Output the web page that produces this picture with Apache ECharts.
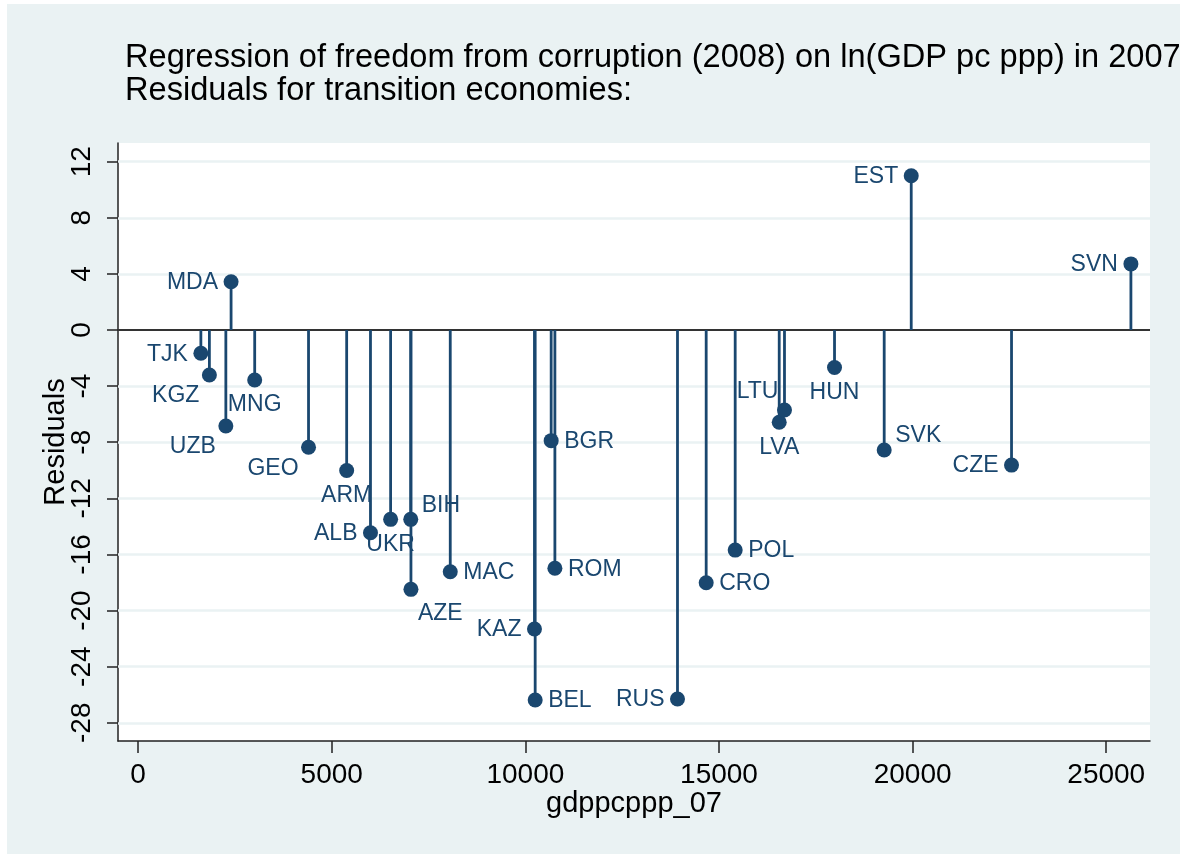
<!DOCTYPE html>
<html>
<head>
<meta charset="utf-8">
<script src="https://cdn.jsdelivr.net/npm/echarts@6/dist/echarts.min.js"></script>
<style>
  html, body { margin: 0; padding: 0; background: #ffffff; }
  #chart { width: 1192px; height: 854px; }
</style>
</head>
<body>
<div id="chart"></div>
<script>
// ---- data ----
const countries = ['TJK','KGZ','UZB','MDA','MNG','GEO','ARM','ALB','UKR','BIH','AZE','MAC','KAZ','BEL','BGR','ROM','RUS','CRO','POL','LVA','LTU','HUN','SVK','EST','CZE','SVN'];
const gdppcppp07 = [1620, 1840, 2265, 2400, 3010, 4400, 5385, 6000, 6520, 7040, 7045, 8060, 10235, 10253, 10666, 10762, 13928, 14669, 15418, 16555, 16691, 17983, 19266, 19964, 22554, 25637];
const residuals = [-1.66, -3.21, -6.84, 3.44, -3.57, -8.36, -10.02, -14.45, -13.50, -13.50, -18.49, -17.23, -21.32, -26.38, -7.89, -16.99, -26.31, -18.02, -15.69, -6.58, -5.70, -2.67, -8.56, 11.00, -9.63, 4.71];
const xTicks = [0, 5000, 10000, 15000, 20000, 25000];
const yTicks = [-28, -24, -20, -16, -12, -8, -4, 0, 4, 8, 12];
const titleLines = ['Regression of freedom from corruption (2008) on ln(GDP pc ppp) in 2007', 'Residuals for transition economies:'];

// ---- styling: marker label clock positions (Stata style) ----
const labelClock = {
  TJK: 9, KGZ: 7, UZB: 7, MDA: 9, MNG: 6, GEO: 7, ARM: 6, ALB: 9, UKR: 6, BIH: 1, AZE: 5,
  MAC: 3, KAZ: 9, BEL: 3, BGR: 3, ROM: 3, RUS: 9, CRO: 3, POL: 3, LVA: 6, LTU: 11, HUN: 6,
  SVK: 1, EST: 9, CZE: 9, SVN: 9
};
const clockStyle = {
  3:  { offset: [13, 1],  align: 'left' },
  9:  { offset: [-13, 1], align: 'right' },
  6:  { offset: [0, 25],  align: 'center' },
  7:  { offset: [-10, 21], align: 'right' },
  5:  { offset: [7, 24],  align: 'left' },
  1:  { offset: [11, -14], align: 'left' },
  11: { offset: [-6, -18], align: 'right' }
};

const NAVY = '#1A476F';
const BG = '#EAF2F3';
const FONT = '"Liberation Sans", Arial, Helvetica, sans-serif';

const points = countries.map((c, i) => {
  const st = clockStyle[labelClock[c]];
  return {
    name: c,
    value: [gdppcppp07[i], residuals[i]],
    label: { offset: st.offset, align: st.align }
  };
});
const stems = countries.map((c, i) => [gdppcppp07[i], residuals[i]]);

const chart = echarts.init(document.getElementById('chart'), null, { renderer: 'canvas' });
chart.setOption({
  animation: false,
  backgroundColor: '#ffffff',
  graphic: [{
    type: 'rect', z: -10, silent: true,
    shape: { x: 7, y: 4, width: 1173, height: 850 },
    style: { fill: BG }
  }],
  title: {
    text: titleLines.join('\n'),
    left: 120, top: 37,
    textStyle: { fontFamily: FONT, fontSize: 32.6, fontWeight: 'normal', color: '#000', lineHeight: 33 }
  },
  grid: {
    left: 118, right: 42, top: 143, bottom: 113,
    show: true, backgroundColor: '#ffffff', borderWidth: 0
  },
  xAxis: {
    type: 'value', min: -520, max: 26130,
    name: 'gdppcppp_07', nameLocation: 'middle', nameGap: 48, nameMoveOverlap: false,
    nameTextStyle: { fontFamily: FONT, fontSize: 29, color: '#000' },
    axisLine: { show: true, onZero: false, lineStyle: { color: '#222', width: 1.5 } },
    axisTick: { show: true, length: 12, customValues: xTicks, lineStyle: { color: '#222', width: 1.5 } },
    axisLabel: { customValues: xTicks, margin: 20, fontFamily: FONT, fontSize: 28, color: '#000',
                 formatter: v => String(v) },
    splitLine: { show: false }
  },
  yAxis: {
    type: 'value', min: -29.3, max: 13.33,
    name: 'Residuals', nameLocation: 'middle', nameGap: 48, nameMoveOverlap: false,
    nameTextStyle: { fontFamily: FONT, fontSize: 29, color: '#000' },
    axisLine: { show: true, onZero: false, lineStyle: { color: '#222', width: 1.5 } },
    axisTick: { show: true, length: 11, customValues: yTicks, lineStyle: { color: '#222', width: 1.5 } },
    axisLabel: { customValues: yTicks, rotate: 90, margin: 22, fontFamily: FONT, fontSize: 28, color: '#000',
                 formatter: v => String(v) },
    splitLine: { show: false }
  },
  series: [
    {
      type: 'line', data: [], silent: true, z: 1, zlevel: 0,
      markLine: {
        silent: true, symbol: 'none', label: { show: false }, animation: false,
        lineStyle: { color: BG, width: 2.5, type: 'solid' },
        data: yTicks.filter(v => v !== 0).map(v => ({ yAxis: v }))
      }
    },
    {
      type: 'line', data: [], silent: true, z: 2, zlevel: 0,
      markLine: {
        silent: true, symbol: 'none', label: { show: false }, animation: false,
        lineStyle: { color: '#333', width: 2, type: 'solid' },
        data: [{ yAxis: 0 }]
      }
    },
    {
      type: 'custom', z: 3, zlevel: 1, silent: true,
      data: stems,
      renderItem: function (params, api) {
        const p0 = api.coord([api.value(0), 0]);
        const p1 = api.coord([api.value(0), api.value(1)]);
        return {
          type: 'line',
          shape: { x1: p0[0], y1: p0[1], x2: p1[0], y2: p1[1] },
          style: { stroke: NAVY, lineWidth: 2.8 }
        };
      }
    },
    {
      type: 'scatter', z: 4, zlevel: 1,
      symbol: 'circle', symbolSize: 15,
      itemStyle: { color: NAVY, opacity: 1 },
      label: {
        show: true, position: 'inside', formatter: '{b}',
        verticalAlign: 'middle',
        fontFamily: FONT, fontSize: 23, color: NAVY
      },
      data: points
    }
  ]
});
</script>
</body>
</html>
